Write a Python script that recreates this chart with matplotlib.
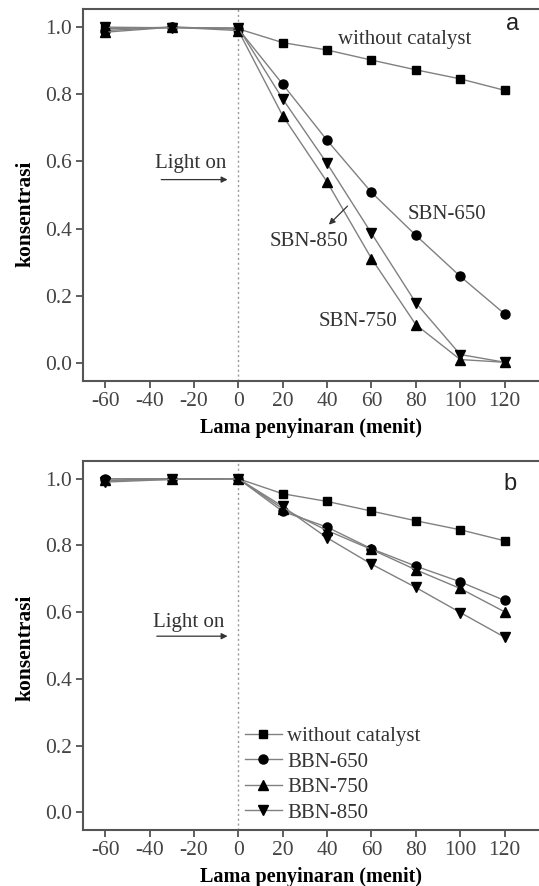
import matplotlib
matplotlib.use("Agg")
import matplotlib.pyplot as plt

# ---------------- data ----------------
time = [-60, -30, 0, 20, 40, 60, 80, 100, 120]

# panel a
a_without = [0.995, 1.0, 0.995, 0.954, 0.932, 0.902, 0.873, 0.846, 0.812]
a_sbn650 = [0.99, 1.0, 0.995, 0.830, 0.663, 0.508, 0.380, 0.258, 0.146]
a_sbn750 = [0.985, 1.0, 0.99, 0.736, 0.539, 0.311, 0.114, 0.010, 0.002]
a_sbn850 = [1.0, 0.998, 0.998, 0.786, 0.594, 0.386, 0.179, 0.025, 0.002]

# panel b
b_without = [0.995, 1.0, 1.0, 0.955, 0.932, 0.903, 0.874, 0.847, 0.814]
b_bbn650 = [1.0, 1.0, 1.0, 0.902, 0.855, 0.790, 0.738, 0.691, 0.635]
b_bbn750 = [0.995, 0.998, 1.0, 0.910, 0.845, 0.788, 0.727, 0.671, 0.601]
b_bbn850 = [0.99, 0.998, 1.0, 0.917, 0.823, 0.744, 0.674, 0.599, 0.525]

xticks = [-60, -40, -20, 0, 20, 40, 60, 80, 100, 120]
yticks = [0.0, 0.2, 0.4, 0.6, 0.8, 1.0]

serif = ["Liberation Serif", "DejaVu Serif"]
sans = ["Liberation Sans", "DejaVu Sans"]
plt.rcParams["font.family"] = serif

fig = plt.figure(figsize=(5.39, 8.86), dpi=100)
ax1 = fig.add_axes([0.154, 0.5703, 0.846, 0.4195])
ax2 = fig.add_axes([0.154, 0.0632, 0.846, 0.4168])

line_kw = dict(color="#808080", lw=1.0, markerfacecolor="black",
               markeredgecolor="black", markersize=6.5)
sq_kw = dict(line_kw, markersize=6)

TXT = 15


def style(ax, ylab_y):
    ax.set_xlim(-70, 135.5)
    ax.set_ylim(-0.053, 1.054)
    ax.set_xticks(xticks)
    ax.set_xticklabels([str(t) for t in xticks])
    ax.set_yticks(yticks)
    ax.set_yticklabels([f"{t:.1f}" for t in yticks])
    ax.tick_params(direction="out", length=5, width=1.2, colors="#444444",
                   labelsize=15.5, labelcolor="#444444", pad=3)
    for s in ["left", "bottom", "top"]:
        ax.spines[s].set_color("#555555")
        ax.spines[s].set_linewidth(1.5)
    ax.spines["right"].set_visible(False)
    ax.axvline(0, color="#999999", lw=1.0, ls=(0, (1.5, 2)), zorder=0)
    ax.set_xlabel("Lama penyinaran (menit)", fontsize=14.5, fontweight="bold",
                  va="center")
    ax.xaxis.set_label_coords(0.5, -0.128)
    ax.set_ylabel("konsentrasi", fontsize=15.5, fontweight="bold",
                  va="center")
    ax.yaxis.set_label_coords(-0.127, ylab_y)


# ---- panel a ----
ax1.plot(time, a_without, marker="s", **sq_kw)
ax1.plot(time, a_sbn650, marker="o", **line_kw)
ax1.plot(time, a_sbn750, marker="^", **line_kw)
ax1.plot(time, a_sbn850, marker="v", **line_kw)
style(ax1, 0.449)

ax1.text(74.8, 0.964, "without catalyst", fontsize=TXT, color="#333333",
         ha="center", va="center")
ax1.text(93.9, 0.443, "SBN-650", fontsize=TXT, color="#333333",
         ha="center", va="center")
ax1.text(54.1, 0.123, "SBN-750", fontsize=TXT, color="#333333",
         ha="center", va="center")
ax1.text(31.6, 0.361, "SBN-850", fontsize=TXT, color="#333333",
         ha="center", va="center")
ax1.annotate("", xy=(39.9, 0.406), xytext=(50.1, 0.473),
             arrowprops=dict(arrowstyle="-|>", color="#333333", lw=0.9,
                             mutation_scale=9))
ax1.text(-21.5, 0.595, "Light on", fontsize=TXT, color="#333333",
         ha="center", va="center")
ax1.annotate("", xy=(-3.6, 0.546), xytext=(-36, 0.546),
             arrowprops=dict(arrowstyle="-|>", color="#333333", lw=0.9,
                             mutation_scale=9))
ax1.text(123.8, 1.009, "a", fontsize=17, family=sans, color="#222222",
         ha="center", va="center")

# ---- panel b ----
ax2.plot(time, b_without, marker="s", label="without catalyst", **sq_kw)
ax2.plot(time, b_bbn650, marker="o", label="BBN-650", **line_kw)
ax2.plot(time, b_bbn750, marker="^", label="BBN-750", **line_kw)
ax2.plot(time, b_bbn850, marker="v", label="BBN-850", **line_kw)
style(ax2, 0.493)

ax2.text(-22.5, 0.57, "Light on", fontsize=TXT, color="#333333",
         ha="center", va="center")
ax2.annotate("", xy=(-3.6, 0.528), xytext=(-38, 0.528),
             arrowprops=dict(arrowstyle="-|>", color="#333333", lw=0.9,
                             mutation_scale=9))
ax2.text(122.4, 0.985, "b", fontsize=17, family=sans, color="#222222",
         ha="center", va="center")

leg = ax2.legend(loc="lower left", bbox_to_anchor=(0.355, 0.02),
                 frameon=False, fontsize=TXT, handlelength=1.78,
                 handletextpad=0.25, labelspacing=0.28, borderpad=0.0,
                 borderaxespad=0.0)
for t in leg.get_texts():
    t.set_color("#333333")

fig.savefig("out.png", dpi=100)
